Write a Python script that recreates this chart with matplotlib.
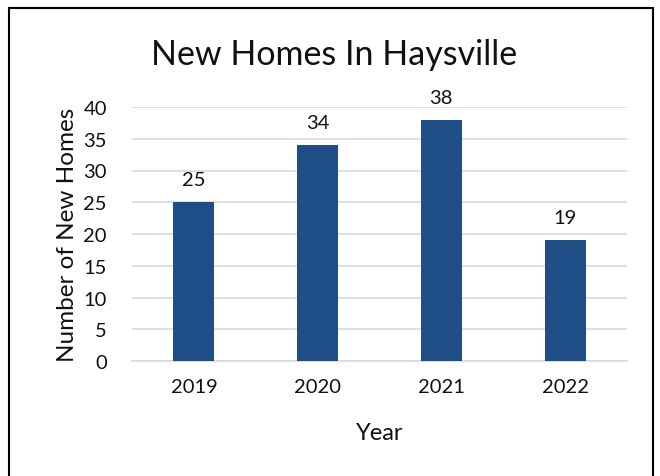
import matplotlib
matplotlib.use("Agg")
import matplotlib.pyplot as plt
from matplotlib.patches import Rectangle

years = ["2019", "2020", "2021", "2022"]
new_homes = [25, 34, 38, 19]
y_ticks = [0, 5, 10, 15, 20, 25, 30, 35, 40]

W, H = 660, 477
plt.rcParams["font.family"] = ["Lato", "DejaVu Sans"]

fig = plt.figure(figsize=(W / 100, H / 100), dpi=100)
fig.patch.set_facecolor("white")

# chart frame
fig.add_artist(Rectangle((9 / W, -0.05), (653 - 9) / W, 1.05 - 9 / H,
                         transform=fig.transFigure, fill=False,
                         edgecolor="black", linewidth=1.5))

ax = fig.add_axes([132 / W, 1 - 362 / H, (627 - 132) / W, (362 - 108) / H])
x = range(len(years))
bars = ax.bar(x, new_homes, width=0.33, color="#1F4E87", zorder=3)
for xi, v in zip(x, new_homes):
    ax.annotate(str(v), (xi, v), xytext=(0, 10), textcoords="offset points",
                ha="center", va="bottom", fontsize=14.5, color="#111111")

ax.set_xlim(-0.5, len(years) - 0.5)
ax.set_ylim(0, 40)
ax.set_yticks(y_ticks)
ax.set_xticks(list(x))
ax.set_xticklabels(years)
ax.yaxis.grid(True, color="#D9D9D9", linewidth=1.2, zorder=0)
ax.set_axisbelow(True)
for s in ["top", "right", "left"]:
    ax.spines[s].set_visible(False)
ax.spines["bottom"].set_color("#D9D9D9")
ax.spines["bottom"].set_linewidth(1.2)
ax.tick_params(axis="both", length=0, labelsize=14.5, colors="#111111")
ax.tick_params(axis="y", pad=18)
ax.tick_params(axis="x", pad=12)

ax.set_xlabel("Year", fontsize=17, labelpad=20, color="#111111")
ax.set_ylabel("Number of New Homes", fontsize=17.5, labelpad=4, color="#111111")

fig.text(334 / W, 1 - 55 / H, "New Homes In Haysville", ha="center",
         va="center", fontsize=24.5, color="#111111")

fig.savefig("out.png", dpi=100)
